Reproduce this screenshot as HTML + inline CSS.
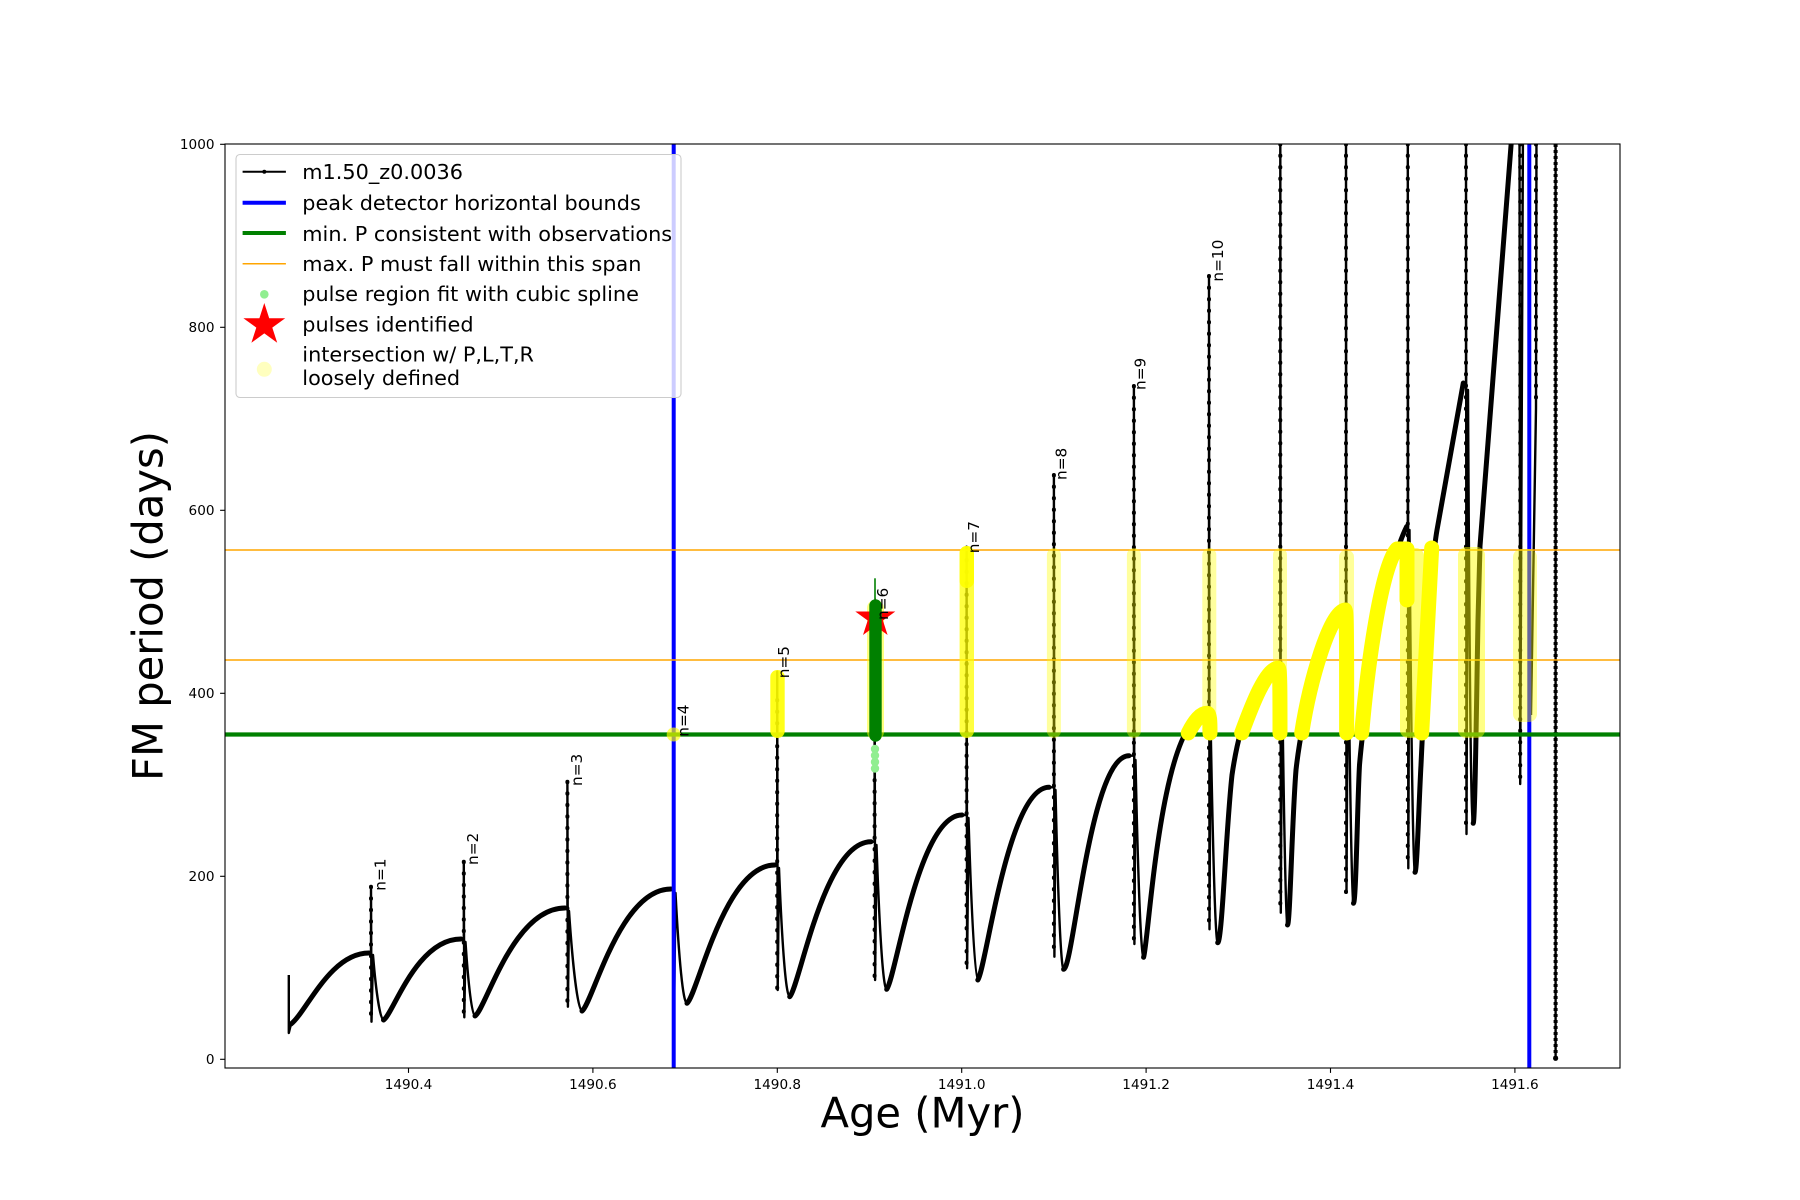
<!DOCTYPE html>
<html><head><meta charset="utf-8"><style>
html,body{margin:0;padding:0;background:#fff;}
svg{display:block;}
text{font-family:"DejaVu Sans","Liberation Sans",sans-serif;}
</style></head><body>
<svg width="1800" height="1200" viewBox="0 0 1800 1200" xmlns="http://www.w3.org/2000/svg">
<rect x="0" y="0" width="1800" height="1200" fill="#fff"/>
<defs><clipPath id="ax"><rect x="225" y="144" width="1395" height="924"/></clipPath></defs>
<g clip-path="url(#ax)">
<path fill="none" stroke="#000" stroke-width="2.4" stroke-linejoin="round" d="
M 288.8 975 L 288.8 1033 L 291 1024
M 369 953 L 371 953 L 371 886.7 L 371.5 1021.7 L 373 955 C 376.2 994 380.3 1020 383.5 1020
M 461 939 L 463.8 939 L 463.8 861.7 L 464.3 1017.3 L 465.5 942 C 468.4 986 472 1016 475 1016
M 565 908 L 567.4 908 L 567.4 781.7 L 567.9 1006.7 L 569 911 C 572.9 969 578 1011 582 1011
M 671 889 L 673.7 889 L 673.7 735 L 674.2 1000 L 675.5 893 C 679 960 683 1003.3 687 1003.3
M 775 865 L 777.2 865 L 777.2 671.7 L 777.7 990 L 779 868 C 782.2 948 786 996.7 789.7 996.7
M 871 841.7 L 874.6 841.7 L 874.6 602 L 875.1 980 L 876.5 845 C 879.5 930 883 989.3 886.7 989.3
M 962 815 L 966.6 815 L 966.6 546.7 L 967.1 968.3 L 968.5 818 C 971.5 915 975 980 977.8 980
M 1049 787.3 L 1053.9 787.3 L 1053.9 475 L 1054.4 956.7 L 1055.5 790 C 1058 900 1061 969.3 1063.6 969.3
M 1129 755.7 L 1133.9 755.7 L 1133.9 386 L 1134.4 944 L 1135.5 760 C 1138 880 1141 957.3 1143.6 957.3
M 1206 713 L 1209 713 L 1209 276 L 1209.5 929.3 L 1210.5 716 C 1213 860 1215.5 942.7 1217.7 942.7
M 1277.8 666.7 L 1280.3 666.7 L 1280.3 120 L 1280.8 912.7 L 1282 670 C 1284 830 1286 925 1287.5 925
M 1345 608.8 L 1346 608.8 L 1346 120 L 1346.5 892.7 L 1348 612 C 1350 800 1352 903.3 1353.5 903.3
M 1406.7 526.5 L 1407.8 526.5 L 1407.8 120 L 1408.3 868.3 L 1409.5 530 C 1411.5 780 1413.5 872.3 1415 872.3
M 1463.3 383 L 1466 383 L 1466 120 L 1466.5 834 L 1468 390 C 1470 760 1471.5 823.3 1473.2 823.3
M 1519.5 120 L 1520.2 784 L 1523 120
M 1536.5 120 L 1536 408 L 1531 715
M 1555.6 120 L 1555.6 1058.3"/>
<path fill="none" stroke="#000" stroke-width="4" stroke-linecap="round" stroke-dasharray="0.5 11" d="
M 371 886.7 L 371 1021.7 M 463.8 861.7 L 463.8 1017.3 M 567.4 781.7 L 567.4 1006.7
M 777.2 700 L 777.2 990 M 874.6 780 L 874.6 980 M 966.6 560 L 966.6 968.3
M 1053.9 475 L 1053.9 956.7 M 1133.9 386 L 1133.9 944 M 1209 276 L 1209 929.3
M 1280.3 144 L 1280.3 912.7 M 1346 144 L 1346 892.7 M 1407.8 144 L 1407.8 868.3
M 1466 144 L 1466 834 M 1520.2 144 L 1520.2 784 M 1536 144 L 1536 408"/>
<path fill="none" stroke="#000" stroke-width="4" stroke-dasharray="3 3" d="M 1555.6 144 L 1555.6 1058"/>
<path fill="none" stroke="#000" stroke-width="5" stroke-linecap="round" stroke-linejoin="round" d="
M 291 1024 C 306.6 1012 330 953 369 953
M 383.5 1020 C 392.8 1015.1 416.1 939 461 939
M 475 1016 C 485.8 1009.5 512.8 908 565 908
M 582 1011 C 592.7 1003.7 619.4 889 671 889
M 687 1003.3 C 697.6 995 724 865 775 865
M 789.7 996.7 C 799.5 987.4 823.8 841.7 871 841.7
M 886.7 989.3 C 895.7 978.8 918.3 815 962 815
M 977.8 980 C 986.3 968.4 1007.7 787.3 1049 787.3
M 1063.6 969.3 C 1073.4 969.3 1089.8 755.7 1129 755.7
M 1143.6 957.3 C 1149 940 1160 720 1206 713
M 1217.7 942.7 C 1222 942.7 1226 830 1232 775 C 1240 720 1258 672 1277.8 666.7
M 1287.5 925 C 1290 925 1292 820 1296 770 C 1302 715 1325 615 1345 608.8
M 1353.5 903.3 C 1356 903.3 1357.5 800 1359.5 765 C 1365 700 1385 570 1406.7 526.5
M 1415 872.3 C 1417 872.3 1419 800 1421 765 C 1424 700 1430 570 1437 530 L 1463.3 383
M 1473.2 823.3 C 1475 823.3 1476.5 700 1478 620 L 1480 546 L 1513 120"/>
<circle cx="1555.6" cy="1058.3" r="2.6" fill="#000"/>

<line x1="673.7" y1="144" x2="673.7" y2="1068" stroke="#0000ff" stroke-width="4"/>
<line x1="1529.3" y1="144" x2="1529.3" y2="1068" stroke="#0000ff" stroke-width="4"/>
<line x1="225" y1="734.5" x2="1620" y2="734.5" stroke="#008000" stroke-width="4.2"/>
<line x1="225" y1="550" x2="1620" y2="550" stroke="#ffa500" stroke-width="1.5"/>
<line x1="225" y1="660" x2="1620" y2="660" stroke="#ffa500" stroke-width="1.5"/>

<g fill="#ffff00">
<circle cx="673.7" cy="734.5" r="7" fill-opacity="0.65"/>
<rect x="770.3" y="670" width="14.4" height="68" rx="7" fill-opacity="0.9"/>
<rect x="867" y="600" width="17" height="140" rx="8" fill-opacity="0.5"/>
<rect x="959.6" y="546" width="14.4" height="192" rx="7" fill-opacity="0.75"/>
<rect x="959.6" y="546" width="14.4" height="42" rx="7" fill-opacity="0.9"/>
<rect x="1046.9" y="548" width="14" height="190" rx="7" fill-opacity="0.38"/>
<rect x="1126.9" y="548" width="14" height="190" rx="7" fill-opacity="0.38"/>
<rect x="1202.3" y="548" width="14" height="190" rx="7" fill-opacity="0.38"/>
<rect x="1273" y="548" width="14" height="190" rx="7" fill-opacity="0.38"/>
<rect x="1339" y="550" width="15" height="188" rx="7" fill-opacity="0.4"/>
<rect x="1400" y="548" width="24" height="190" rx="8" fill-opacity="0.55"/>
<rect x="1458" y="547" width="27" height="191" rx="8" fill-opacity="0.48"/>
<rect x="1513" y="549" width="24" height="173" rx="8" fill-opacity="0.4"/>
</g>
<path fill="none" stroke="#ffff00" stroke-width="15" stroke-linecap="round" stroke-linejoin="round" d="
M 1188.3 733 C 1195 720 1201 713.3 1206.7 713.3 C 1210 713.3 1210 722 1210 733
M 1241.7 733 C 1252 705 1266 668.3 1278.3 668.3 C 1280 668.3 1280 690 1280 733
M 1301.7 733 C 1310 680 1330 612 1345 610 C 1346.7 610 1346.7 650 1346.7 733
M 1361.7 733 C 1368 660 1382 565 1397 549 L 1407 549 L 1407 600
M 1421.7 733 L 1431.7 548"/>

<g fill="#90ee90">
<circle cx="875" cy="749" r="4.2"/><circle cx="875" cy="755.5" r="4.2"/>
<circle cx="875" cy="762" r="4.2"/><circle cx="875" cy="768.5" r="4.2"/>
</g>
<polygon fill="#ff0000" points="875.3,597 880.0,611.5 895.3,611.5 882.9,620.5 887.6,635.0 875.3,626.0 863.0,635.0 867.7,620.5 855.3,611.5 870.6,611.5"/>
<line x1="875" y1="578.3" x2="875" y2="601" stroke="#008000" stroke-width="1.6"/>
<rect x="869.3" y="599.3" width="12.4" height="142.4" rx="6.2" fill="#008000"/>

<g font-size="15.3" fill="#000">
<text transform="translate(385.5,890.7) rotate(-90)">n=1</text>
<text transform="translate(478,865) rotate(-90)">n=2</text>
<text transform="translate(582,786) rotate(-90)">n=3</text>
<text transform="translate(688.5,736.7) rotate(-90)">n=4</text>
<text transform="translate(789,678.3) rotate(-90)">n=5</text>
<text transform="translate(888,620) rotate(-90)">n=6</text>
<text transform="translate(979,553.3) rotate(-90)">n=7</text>
<text transform="translate(1066.5,480) rotate(-90)">n=8</text>
<text transform="translate(1145.5,390) rotate(-90)">n=9</text>
<text transform="translate(1223,281.6) rotate(-90)">n=10</text>
</g>
</g>

<rect x="225" y="144" width="1395" height="924" fill="none" stroke="#000" stroke-width="1.1"/>
<g stroke="#000" stroke-width="1.1">
<line x1="220.1" y1="1059.3" x2="225" y2="1059.3"/>
<line x1="220.1" y1="876.3" x2="225" y2="876.3"/>
<line x1="220.1" y1="693.3" x2="225" y2="693.3"/>
<line x1="220.1" y1="510.3" x2="225" y2="510.3"/>
<line x1="220.1" y1="327.3" x2="225" y2="327.3"/>
<line x1="220.1" y1="144.3" x2="225" y2="144.3"/>
<line x1="408.5" y1="1068" x2="408.5" y2="1072.9"/>
<line x1="592.9" y1="1068" x2="592.9" y2="1072.9"/>
<line x1="777.3" y1="1068" x2="777.3" y2="1072.9"/>
<line x1="961.7" y1="1068" x2="961.7" y2="1072.9"/>
<line x1="1146.1" y1="1068" x2="1146.1" y2="1072.9"/>
<line x1="1330.5" y1="1068" x2="1330.5" y2="1072.9"/>
<line x1="1514.9" y1="1068" x2="1514.9" y2="1072.9"/>
</g>
<g font-size="13.6" fill="#000" text-anchor="end">
<text x="214.5" y="1064.2">0</text>
<text x="214.5" y="881.2">200</text>
<text x="214.5" y="698.2">400</text>
<text x="214.5" y="515.2">600</text>
<text x="214.5" y="332.2">800</text>
<text x="214.5" y="149.2">1000</text>
</g>
<g font-size="13.6" fill="#000" text-anchor="middle">
<text x="408.5" y="1089">1490.4</text>
<text x="592.9" y="1089">1490.6</text>
<text x="777.3" y="1089">1490.8</text>
<text x="961.7" y="1089">1491.0</text>
<text x="1146.1" y="1089">1491.2</text>
<text x="1330.5" y="1089">1491.4</text>
<text x="1514.9" y="1089">1491.6</text>
</g>

<text x="922.5" y="1127.3" font-size="41.67" text-anchor="middle" fill="#000">Age (Myr)</text>
<text transform="translate(162.7,606) rotate(-90)" font-size="41.67" text-anchor="middle" fill="#000">FM period (days)</text>

<rect x="236" y="154.5" width="445" height="243" rx="4" fill="#fff" fill-opacity="0.8" stroke="#cccccc" stroke-width="1.1"/>
<line x1="242.6" y1="171.7" x2="285.9" y2="171.7" stroke="#000" stroke-width="2"/>
<circle cx="264.3" cy="171.7" r="2" fill="#000"/>
<line x1="242.6" y1="202.7" x2="285.9" y2="202.7" stroke="#0000ff" stroke-width="4"/>
<line x1="242.6" y1="233" x2="285.9" y2="233" stroke="#008000" stroke-width="4"/>
<line x1="242.6" y1="263.8" x2="285.9" y2="263.8" stroke="#ffa500" stroke-width="1.5"/>
<circle cx="264.3" cy="294.3" r="4.3" fill="#90ee90"/>
<polygon fill="#ff0000" points="264.3,303 269.2,318.2 285.2,318.2 272.3,327.6 277.2,342.8 264.3,333.4 251.4,342.8 256.3,327.6 243.4,318.2 259.4,318.2"/>
<circle cx="264.3" cy="369.3" r="7.5" fill="#ffff00" fill-opacity="0.25"/>
<g font-size="20.8" fill="#000">
<text x="302.3" y="179">m1.50_z0.0036</text>
<text x="302.3" y="210">peak detector horizontal bounds</text>
<text x="302.3" y="241">min. P consistent with observations</text>
<text x="302.3" y="271">max. P must fall within this span</text>
<text x="302.3" y="301">pulse region fit with cubic spline</text>
<text x="302.3" y="331.7">pulses identified</text>
<text x="302.3" y="361.7">intersection w/ P,L,T,R</text>
<text x="302.3" y="385">loosely defined</text>
</g>
</svg>
</body></html>
